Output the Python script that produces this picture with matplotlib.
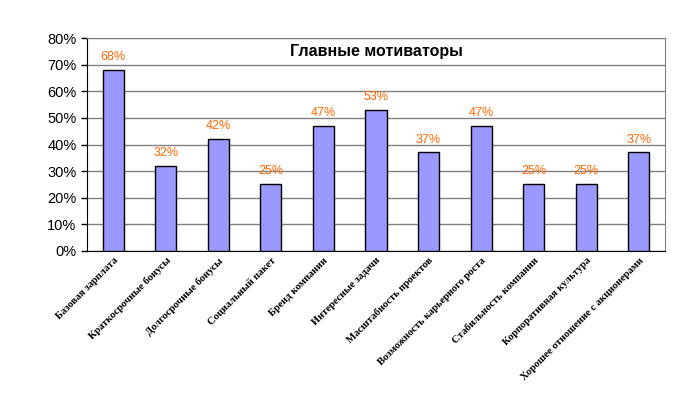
import matplotlib
matplotlib.use("Agg")
import matplotlib.pyplot as plt
from matplotlib.ticker import PercentFormatter

# data
categories = [
    "Базовая зарплата",
    "Краткосрочные бонусы",
    "Долгосрочные бонусы",
    "Социальный пакет",
    "Бренд компании",
    "Интересные задачи",
    "Масштабность проектов",
    "Возможность карьерного роста",
    "Стабильность компании",
    "Корпоративная культура",
    "Хорошее отношение с акционерами",
]
values = [68, 32, 42, 25, 47, 53, 37, 47, 25, 25, 37]
title = "Главные мотиваторы"

fig = plt.figure(figsize=(6.87, 3.97), dpi=100)
ax = fig.add_axes([87 / 687, 1 - 251 / 397, (665 - 87) / 687, (251 - 38) / 397])

x = list(range(len(categories)))
bars = ax.bar(x, values, width=0.4, color="#9999FF", edgecolor="black", linewidth=1, zorder=3)

ax.set_xlim(-0.5, len(categories) - 0.5)
ax.set_ylim(0, 80)
ax.set_yticks(range(0, 81, 10))
ax.yaxis.set_major_formatter(PercentFormatter(decimals=0))
ax.grid(axis="y", color="#808080", linewidth=1, zorder=0)

for side in ["top", "right"]:
    ax.spines[side].set_color("#808080")
ax.spines["left"].set_color("black")
ax.spines["bottom"].set_color("black")

ax.tick_params(axis="y", labelsize=10.5, length=4, width=1, colors="black")
for lab in ax.get_yticklabels():
    lab.set_family("Liberation Sans")
ax.tick_params(axis="x", length=0)
ax.set_xticks(x)
ax.set_xticklabels(categories, rotation=45, ha="right", rotation_mode="anchor",
                   fontsize=7.6, family="Liberation Serif", fontweight="bold")

for xi, v in zip(x, values):
    ax.annotate(f"{v}%", (xi, v), xytext=(0, 5), textcoords="offset points",
                ha="center", va="bottom", color="#FF6600", fontsize=9,
                family="Liberation Sans")

ax.text(0.5, 0.97, title, transform=ax.transAxes, ha="center", va="top",
        fontsize=11.5, fontweight="bold", family="Liberation Sans")

fig.savefig("out.png", dpi=100)
